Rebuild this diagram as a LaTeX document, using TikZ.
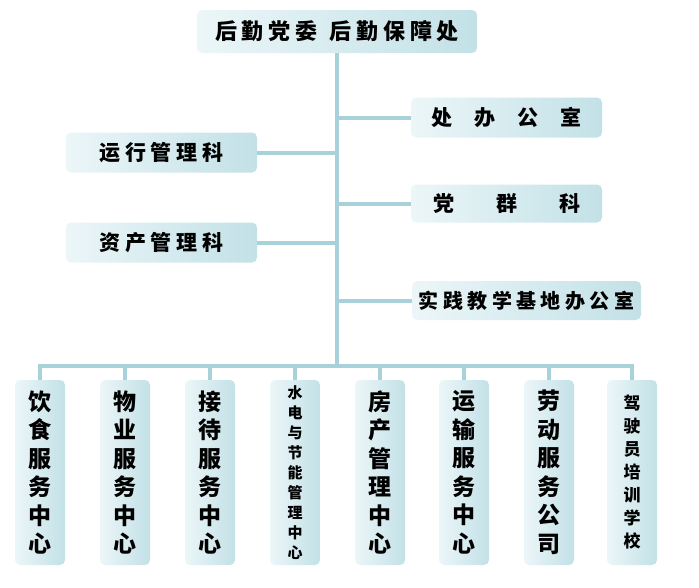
\documentclass[tikz,border=0pt]{standalone}
\usepackage{fontspec}
\newfontfamily\cjk[LetterSpace=22]{Noto Sans CJK SC}
\newfontfamily\cjkv{Noto Sans CJK SC}
\usetikzlibrary{positioning}
\definecolor{linkblue}{RGB}{168,210,218}
\definecolor{boxlight}{RGB}{236,246,248}
\definecolor{boxdark}{RGB}{194,225,231}

\begin{document}
\begin{tikzpicture}[x=1pt,y=-1pt,
            unit/.style={rounded corners=5pt,left color=boxlight,right color=boxdark,inner sep=0pt},
            wide/.style={unit,minimum width=191pt,minimum height=40pt,font=\cjk\bfseries\fontsize{21}{24}\selectfont},
            tall/.style={unit,minimum width=50pt,minimum height=185pt,align=center,font=\cjkv\bfseries\fontsize{23}{28.5}\selectfont},
            small/.style={font=\cjkv\bfseries\fontsize{15}{20}\selectfont},
            mid/.style={font=\cjkv\bfseries\fontsize{17}{23}\selectfont},
            link/.style={draw=linkblue,line width=4pt}]
            \useasboundingbox (0,0) rectangle (699,587);
            \node[unit,minimum width=280pt,minimum height=43pt,font=\cjk\bfseries\fontsize{22}{24}\selectfont] (top) at (337,31.5) {后勤党委\hspace{12pt}后勤保障处};
            \node[wide] (office) at (506.5,117.5) {处\hspace{22pt}办\hspace{22pt}公\hspace{22pt}室};
            \node[wide] (yunxing) at (161.5,152.5) {运行管理科};
            \node[wide,minimum height=38pt] (party) at (506.5,203.5) {党\hspace{42pt}群\hspace{42pt}科};
            \node[wide] (zichan) at (161.5,242.5) {资产管理科};
            \node[wide,minimum width=229pt,minimum height=39pt] (base) at (526.5,300.5) {\fontsize{20}{24}\selectfont 实践教学基地办公室};
            \node[tall] (c1) at (40,472.5) {饮\\食\\服\\务\\中\\心};
            \node[tall] (c2) at (125,472.5) {物\\业\\服\\务\\中\\心};
            \node[tall] (c3) at (210,472.5) {接\\待\\服\\务\\中\\心};
            \node[tall,small] (c4) at (295,472.5) {水\\电\\与\\节\\能\\管\\理\\中\\心};
            \node[tall] (c5) at (380,472.5) {房\\产\\管\\理\\中\\心};
            \node[tall] (c6) at (464,472.5) {运\\输\\服\\务\\中\\心};
            \node[tall] (c7) at (549,472.5) {劳\\动\\服\\务\\公\\司};
            \node[tall,mid] (c8) at (632,472.5) {驾\\驶\\员\\培\\训\\学\\校};
            \coordinate (bar) at (337,366);
            \draw[link] (top.south) -- (bar);
            \draw[link] (c1.north) |- (bar) -| (c8.north);
            \foreach \n in {c2,c3,c4,c5,c6,c7}
                \draw[link] (\n.north) -- (\n.north |- bar);
            \foreach \n in {office,party,base}
                \draw[link] (\n.west) -- (\n.west -| top.south);
            \foreach \n in {yunxing,zichan}
                \draw[link] (\n.east) -- (\n.east -| top.south);
        \end{tikzpicture}
\end{document}
